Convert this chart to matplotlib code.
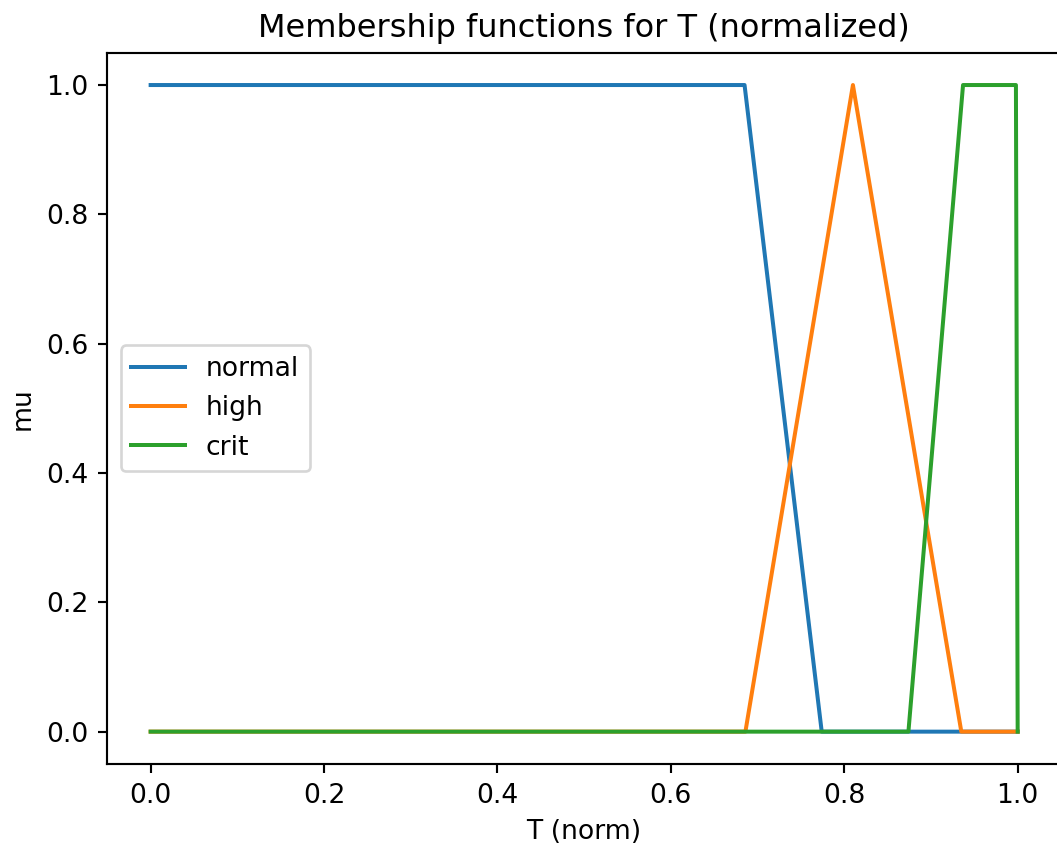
"""
Membership functions for normalized temperature T (fuzzy sets).
Outputs: out.png
"""

import matplotlib
matplotlib.use("Agg")
import matplotlib.pyplot as plt

# ── Data (breakpoints) ───────────────────────────────────────────────────────
normal_x = [0.0, 0.685, 0.774, 1.0]
normal_mu = [1.0, 1.0, 0.0, 0.0]

high_x = [0.0, 0.686, 0.810, 0.935, 1.0]
high_mu = [0.0, 0.0, 1.0, 0.0, 0.0]

crit_x = [0.0, 0.874, 0.937, 0.998, 1.0]
crit_mu = [0.0, 0.0, 1.0, 1.0, 0.0]

series = [
    ("normal", normal_x, normal_mu),
    ("high", high_x, high_mu),
    ("crit", crit_x, crit_mu),
]

# ── Plot ─────────────────────────────────────────────────────────────────────
DPI = 192
fig = plt.figure(figsize=(1057 / DPI, 850 / DPI), dpi=DPI)
ax = fig.add_axes([0.1015, 0.1012, 0.9023, 0.8368])

for name, x, mu in series:
    ax.plot(x, mu, label=name)

ax.set_title("Membership functions for T (normalized)")
ax.set_xlabel("T (norm)")
ax.set_ylabel("mu")
ax.legend(loc="center left")

fig.savefig("out.png", dpi=DPI)
plt.close(fig)
